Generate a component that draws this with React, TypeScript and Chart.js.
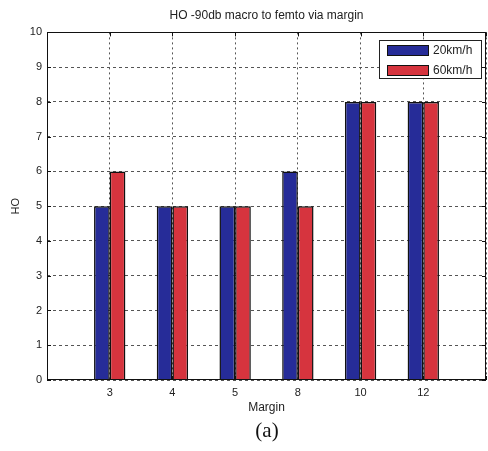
import React, { useEffect, useRef } from "react";
import { Chart, registerables } from "chart.js";

Chart.register(...registerables);

const categories = ["3", "4", "5", "8", "10", "12"];
const speed20 = [5, 5, 5, 6, 8, 8];
const speed60 = [6, 5, 5, 5, 8, 8];
const seriesNames = ["20km/h", "60km/h"];
const yMin = 0;
const yMax = 10;

const BLUE = "rgb(38,44,152)";
const RED = "rgb(214,52,62)";
const FONT = "'Liberation Sans', Arial, sans-serif";

const framePlugin = {
  id: "frameAndLegend",
  afterDraw(chart: any) {
    const { ctx, chartArea: a } = chart;
    const xs = chart.scales.x;
    const ys = chart.scales.y;
    ctx.save();
    ctx.setLineDash([]);
    ctx.strokeStyle = "#111";
    ctx.lineWidth = 1;
    ctx.strokeRect(Math.round(a.left) + 0.5, Math.round(a.top) + 0.5, Math.round(a.right - a.left) - 1, Math.round(a.bottom - a.top) - 1);
    // inner tick marks (matlab style)
    ctx.beginPath();
    xs.ticks.forEach((_t: any, i: number) => {
      const px = Math.round(xs.getPixelForTick(i)) + 0.5;
      ctx.moveTo(px, a.top);
      ctx.lineTo(px, a.top + 4);
      ctx.moveTo(px, a.bottom);
      ctx.lineTo(px, a.bottom - 4);
    });
    ys.ticks.forEach((_t: any, i: number) => {
      const py = Math.round(ys.getPixelForTick(i)) + 0.5;
      ctx.moveTo(a.left, py);
      ctx.lineTo(a.left + 4, py);
      ctx.moveTo(a.right, py);
      ctx.lineTo(a.right - 4, py);
    });
    ctx.stroke();

    // legend box
    const bw = 102;
    const bh = 38;
    const bx = Math.round(a.right) - 5 - bw;
    const by = Math.round(a.top) + 8;
    ctx.fillStyle = "#fff";
    ctx.fillRect(bx, by, bw, bh);
    ctx.strokeStyle = "#222";
    ctx.strokeRect(bx + 0.5, by + 0.5, bw, bh);
    ctx.font = "12px " + FONT;
    ctx.textBaseline = "middle";
    ctx.textAlign = "left";
    chart.data.datasets.forEach((ds: any, i: number) => {
      const sy = by + 5 + i * 20;
      ctx.fillStyle = ds.backgroundColor;
      ctx.fillRect(bx + 8, sy, 41, 10);
      ctx.strokeStyle = "#111";
      ctx.strokeRect(bx + 8.5, sy + 0.5, 41, 10);
      ctx.fillStyle = "#222";
      ctx.fillText(ds.label, bx + 54, sy + 5.5);
    });
    ctx.restore();
  },
};

export default function App() {
  const ref = useRef<HTMLCanvasElement | null>(null);

  useEffect(() => {
    if (!ref.current) return;
    const labels = ["", ...categories, ""];
    const chart = new Chart(ref.current, {
      type: "bar",
      data: {
        labels,
        datasets: [
          {
            label: seriesNames[0],
            data: [null, ...speed20, null],
            backgroundColor: BLUE,
            borderColor: "#111",
            borderWidth: 1.5,
          },
          {
            label: seriesNames[1],
            data: [null, ...speed60, null],
            backgroundColor: RED,
            borderColor: "#111",
            borderWidth: 1.5,
          },
        ],
      },
      options: {
        responsive: false,
        animation: false,
        devicePixelRatio: 1,
        layout: { padding: { left: 0, right: 2, top: 0, bottom: 0 } },
        datasets: { bar: { categoryPercentage: 0.5, barPercentage: 1 } },
        plugins: {
          legend: { display: false },
          tooltip: { enabled: false },
          title: {
            display: true,
            text: "HO -90db macro to femto via margin",
            fullSize: false,
            color: "#222",
            font: { family: FONT, size: 12, weight: "normal" },
            padding: { top: 8, bottom: 10 },
          },
        },
        scales: {
          x: {
            type: "category",
            offset: false,
            grid: {
              color: "#555",
              lineWidth: 1,
              drawTicks: false,
              offset: false,
            },
            border: { display: false, color: "#111", dash: [2, 3] },
            ticks: {
              color: "#222",
              font: { family: FONT, size: 11 },
              padding: 6,
              maxRotation: 0,
              autoSkip: false,
            },
            title: {
              display: true,
              text: "Margin",
              color: "#222",
              font: { family: FONT, size: 12 },
              padding: { top: 0, bottom: 5 },
            },
            afterFit: (s: any) => {
              s.height = 40;
              s.paddingLeft = 0;
              s.paddingRight = 0;
            },
          },
          y: {
            min: yMin,
            max: yMax,
            grid: {
              color: "#555",
              lineWidth: 1,
              drawTicks: false,
            },
            border: { display: false, color: "#111", dash: [3, 3] },
            ticks: {
              stepSize: 1,
              color: "#222",
              font: { family: FONT, size: 11 },
              padding: 5,
            },
            title: {
              display: true,
              text: "HO",
              color: "#222",
              font: { family: FONT, size: 11 },
              padding: { top: 9, bottom: 0 },
            },
            afterFit: (s: any) => {
              s.width = 47;
            },
          },
        },
      },
      plugins: [framePlugin],
    });
    return () => chart.destroy();
  }, []);

  return (
    <div style={{ position: "absolute", left: 0, top: 0, width: 488, height: 451, background: "#fff" }}>
      <canvas ref={ref} width={488} height={420} style={{ display: "block" }} />
      <div
        style={{
          position: "absolute",
          left: 0,
          width: 534,
          top: 417,
          textAlign: "center",
          fontFamily: "'Liberation Serif', 'Times New Roman', serif",
          fontSize: 21,
          color: "#111",
          lineHeight: "26px",
        }}
      >
        (a)
      </div>
    </div>
  );
}
